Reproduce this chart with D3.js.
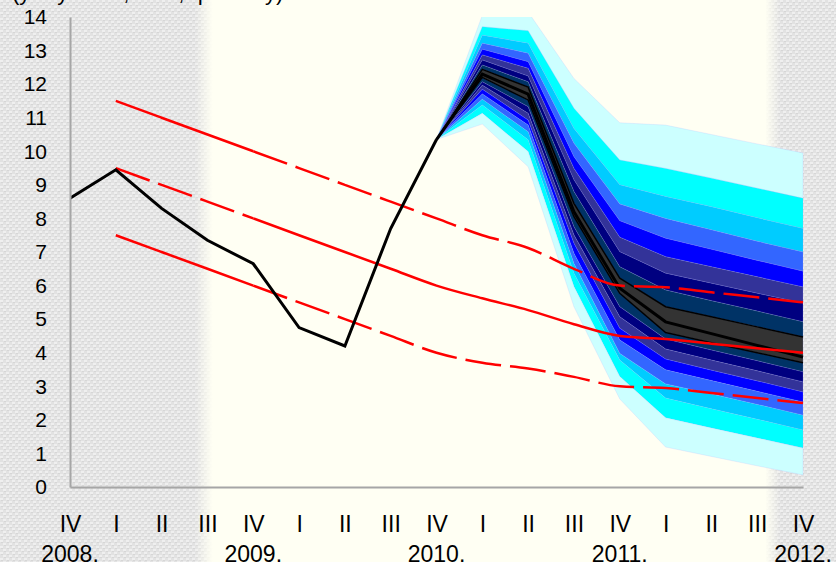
<!DOCTYPE html>
<html>
<head>
<meta charset="utf-8">
<script src="https://cdn.jsdelivr.net/npm/d3@7"></script>
<style>
  body { margin: 0; background: #e4e4e4; }
  svg { display: block; font-family: "Liberation Sans", Arial, sans-serif; }
</style>
</head>
<body>
<div id="chart"></div>
<script>
// quarters on the x axis
const periods = ['2008Q4','2009Q1','2009Q2','2009Q3','2009Q4','2010Q1','2010Q2','2010Q3','2010Q4',
  '2011Q1','2011Q2','2011Q3','2011Q4','2012Q1','2012Q2','2012Q3','2012Q4'];
const quarterLabels = ['IV','I','II','III','IV','I','II','III','IV','I','II','III','IV','I','II','III','IV'];
const yearLabels = ['2008.','','','','2009.','','','','2010.','','','','2011.','','','','2012.'];
const yTicks = d3.range(0, 15);

// actual inflation, 2008 Q4 - 2010 Q4
const actual = [8.6, 9.45, 8.3, 7.35, 6.65, 4.75, 4.2, 7.7, 10.35];

// projection fan, 2010 Q4 - 2012 Q4 (band boundaries from top to bottom)
const fanPeriods = periods.slice(8);
const fanBounds = [
  [10.35, 14.05, 14.15, 12.17, 10.85, 10.78, 10.5, 10.22, 9.95],
  [10.35, 13.71, 13.59, 11.28, 9.74, 9.49, 9.2, 8.9, 8.6],
  [10.35, 13.46, 13.22, 10.68, 9.0, 8.65, 8.35, 8.02, 7.7],
  [10.35, 13.22, 12.92, 10.24, 8.43, 8.0, 7.66, 7.32, 7.0],
  [10.35, 13.04, 12.67, 9.84, 7.93, 7.41, 7.08, 6.75, 6.43],
  [10.35, 12.87, 12.47, 9.49, 7.44, 6.86, 6.56, 6.26, 5.96],
  [10.35, 12.72, 12.24, 9.15, 7.01, 6.37, 6.07, 5.77, 5.48],
  [10.35, 12.57, 12.07, 8.8, 6.56, 5.87, 5.55, 5.24, 4.92],
  [10.35, 12.44, 11.91, 8.45, 6.22, 5.37, 5.07, 4.77, 4.47],
  [10.35, 12.2, 11.53, 8.05, 5.77, 4.6, 4.3, 4.0, 3.7],
  [10.35, 12.07, 11.33, 7.75, 5.37, 4.41, 4.08, 3.76, 3.43],
  [10.35, 11.97, 11.13, 7.51, 5.07, 4.11, 3.78, 3.46, 3.13],
  [10.35, 11.85, 10.93, 7.26, 4.73, 3.81, 3.48, 3.16, 2.83],
  [10.35, 11.71, 10.78, 6.96, 4.38, 3.49, 3.17, 2.85, 2.53],
  [10.35, 11.55, 10.58, 6.66, 3.98, 3.07, 2.77, 2.46, 2.14],
  [10.35, 11.38, 10.34, 6.37, 3.78, 2.65, 2.33, 2.02, 1.7],
  [10.35, 11.13, 9.99, 5.97, 3.29, 2.06, 1.76, 1.46, 1.16],
  [10.35, 10.81, 9.54, 5.37, 2.62, 1.19, 0.91, 0.63, 0.36]
];
const fanColors = ['#ccffff','#00ffff','#00ccff','#3366ff','#0000ff','#333399','#000080','#003366',
  '#333333',
  '#003366','#000080','#333399','#0000ff','#3366ff','#00ccff','#00ffff','#ccffff'];
const median = [10.35, 12.3, 11.7, 8.2, 5.92, 4.92, 4.57, 4.22, 3.87];

// target corridor, 2009 Q1 - 2012 Q4
const targetPeriods = periods.slice(1);
const targetUpper = [11.5, 11.0, 10.5, 10.0, 9.5, 9.0, 8.5, 8.0, 7.5, 7.12, 6.5, 6.0, 5.95, 5.8, 5.65, 5.5];
const targetMid = [9.5, 9.0, 8.5, 8.0, 7.5, 7.0, 6.5, 6.0, 5.62, 5.27, 4.85, 4.5, 4.41, 4.27, 4.13, 4.0];
const targetLower = [7.5, 7.0, 6.5, 6.0, 5.5, 5.0, 4.5, 4.0, 3.7, 3.53, 3.28, 3.0, 2.95, 2.8, 2.65, 2.5];

const width = 836, height = 562;
const svg = d3.select('#chart').append('svg')
  .attr('width', width)
  .attr('height', height);

const x = d3.scalePoint().domain(periods).range([70, 803]);
const y = d3.scaleLinear().domain([0, 14]).range([487, 17]);

// background: grey fabric texture with a cream band in the middle
const defs = svg.append('defs');
const tex = defs.append('pattern')
  .attr('id', 'tex')
  .attr('width', 6).attr('height', 6)
  .attr('patternUnits', 'userSpaceOnUse');
tex.append('rect').attr('width', 6).attr('height', 6).attr('fill', '#e2e2e2');
tex.append('rect').attr('x', 0).attr('y', 0).attr('width', 3).attr('height', 2).attr('fill', '#efefef');
tex.append('rect').attr('x', 3).attr('y', 3).attr('width', 3).attr('height', 2).attr('fill', '#efefef');
tex.append('rect').attr('x', 1).attr('y', 2).attr('width', 2).attr('height', 1).attr('fill', '#d6d6d6');
tex.append('rect').attr('x', 4).attr('y', 5).attr('width', 2).attr('height', 1).attr('fill', '#d6d6d6');

const grad = defs.append('linearGradient')
  .attr('id', 'cream')
  .attr('gradientUnits', 'userSpaceOnUse')
  .attr('x1', 195).attr('x2', 780).attr('y1', 0).attr('y2', 0);
[[0, 0], [0.03, 1], [0.975, 1], [1, 0]].forEach(s => {
  grad.append('stop').attr('offset', s[0]).attr('stop-color', '#fffff3').attr('stop-opacity', s[1]);
});

svg.append('rect').attr('width', width).attr('height', height).attr('fill', 'url(#tex)');
svg.append('rect').attr('x', 195).attr('width', 585).attr('height', height).attr('fill', 'url(#cream)');

// title, mostly cut off by the top edge
svg.append('text')
  .attr('x', 12).attr('y', 0)
  .style('font-size', '22px')
  .text('(y-o-y rates, in %, quarterly)');

defs.append('clipPath').attr('id', 'plot')
  .append('rect')
  .attr('x', 70).attr('y', y(14))
  .attr('width', 740).attr('height', y(0) - y(14));

const g = svg.append('g').attr('clip-path', 'url(#plot)');

// fan bands
const bandArea = i => d3.area()
  .x((d, j) => x(fanPeriods[j]))
  .y0((d, j) => y(fanBounds[i + 1][j]))
  .y1(d => y(d));

fanColors.forEach((c, i) => {
  g.append('path')
    .datum(fanBounds[i])
    .attr('d', bandArea(i))
    .attr('fill', c)
    .attr('stroke', 'rgba(160,160,255,0.35)')
    .attr('stroke-width', 0.5);
});

const line = d3.line().x(d => x(d[0])).y(d => y(d[1]));

// black edges of the central band and the central projection
[fanBounds[8], fanBounds[9]].forEach(b => {
  g.append('path')
    .datum(b.map((v, j) => [fanPeriods[j], v]))
    .attr('d', line)
    .attr('fill', 'none')
    .attr('stroke', '#000')
    .attr('stroke-width', 1.5);
});
g.append('path')
  .datum(median.map((v, j) => [fanPeriods[j], v]))
  .attr('d', line)
  .attr('fill', 'none')
  .attr('stroke', '#000')
  .attr('stroke-width', 3);

// target corridor: solid part + dashed part for each line
function targetLine(vals, solidFrom, solidTo) {
  const pts = vals.map((v, j) => [targetPeriods[j], v]);
  const smooth = d3.line().x(d => x(d[0])).y(d => y(d[1])).curve(d3.curveMonotoneX);
  const parts = [
    { data: pts.slice(0, 4), solid: solidFrom },
    { data: pts.slice(3), solid: solidTo }
  ];
  parts.forEach(p => {
    g.append('path')
      .datum(p.data)
      .attr('d', smooth)
      .attr('fill', 'none')
      .attr('stroke', '#ff0000')
      .attr('stroke-width', 2.5)
      .attr('stroke-dasharray', p.solid ? null : '36,9');
  });
}
targetLine(targetUpper, true, false);
targetLine(targetMid, false, true);
targetLine(targetLower, true, false);

// actual inflation
g.append('path')
  .datum(actual.map((v, j) => [periods[j], v]))
  .attr('d', line)
  .attr('fill', 'none')
  .attr('stroke', '#000')
  .attr('stroke-width', 3);

// axes
const yAxis = svg.append('g')
  .attr('transform', 'translate(70,0)')
  .call(d3.axisLeft(y).tickValues(yTicks).tickSize(0).tickPadding(23).tickFormat(d3.format('d')));
yAxis.select('.domain').attr('stroke', '#a6a6a6').attr('stroke-width', 2);
yAxis.selectAll('text')
  .style('font-size', '21px')
  .attr('fill', '#000');

const xAxis = svg.append('g')
  .attr('transform', `translate(0,${y(0)})`)
  .call(d3.axisBottom(x).tickSize(0).tickPadding(29).tickFormat((d, i) => quarterLabels[i]));
xAxis.select('.domain').attr('stroke', '#a6a6a6').attr('stroke-width', 2);
xAxis.selectAll('text')
  .style('font-size', '23px')
  .attr('fill', '#000');

svg.append('g')
  .selectAll('text')
  .data(periods.filter((p, i) => yearLabels[i]))
  .enter().append('text')
  .attr('x', d => x(d))
  .attr('y', 562)
  .attr('text-anchor', 'middle')
  .style('font-size', '23px')
  .text(d => yearLabels[periods.indexOf(d)]);
</script>
</body>
</html>
